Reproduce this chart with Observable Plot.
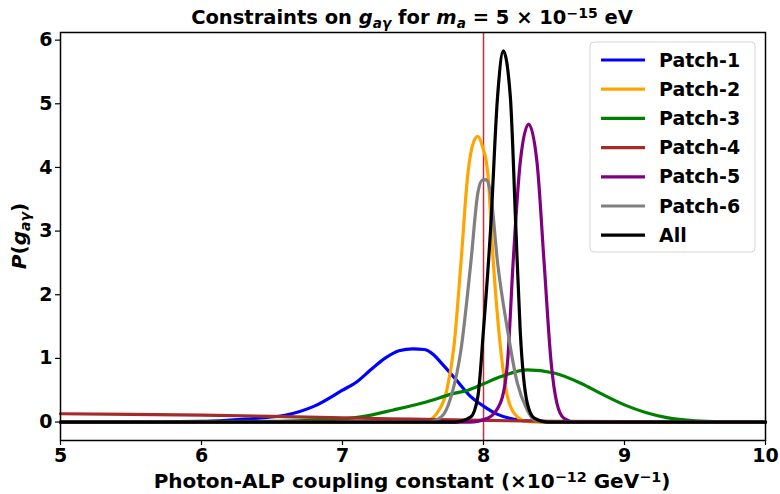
<!DOCTYPE html>
<html>
<head>
<meta charset="utf-8">
<script src="https://cdn.jsdelivr.net/npm/d3@7"></script>
<script src="https://cdn.jsdelivr.net/npm/@observablehq/plot@0.6"></script>
<style>
  html, body { margin: 0; padding: 0; background: #fff; }
  #chart { width: 780px; height: 494px; }
</style>
</head>
<body>
<div id="chart"></div>
<script>
// ---- Data ----
const seriesNames = ["Patch-1", "Patch-2", "Patch-3", "Patch-4", "Patch-5", "Patch-6", "All"];
const seriesColors = ["#0000ff", "#ffa500", "#008000", "#a52a2a", "#800080", "#808080", "#000000"];

const p1x = [5.0, 5.5, 6.0, 6.2, 6.4, 6.6, 6.8, 7.0, 7.1, 7.2, 7.3, 7.4, 7.5, 7.58, 7.65, 7.7, 7.8, 7.9, 8.0, 8.1, 8.2, 8.3, 8.5, 9.0, 10.0];
const p1y = [0, 0, 0.01, 0.03, 0.06, 0.11, 0.25, 0.5, 0.63, 0.82, 1.0, 1.12, 1.15, 1.14, 1.05, 0.93, 0.68, 0.42, 0.25, 0.12, 0.05, 0.02, 0, 0, 0];

const p2x = [5.0, 7.5, 7.6, 7.67, 7.74, 7.79, 7.84, 7.89, 7.93, 7.96, 7.99, 8.03, 8.07, 8.12, 8.17, 8.24, 8.3, 8.4, 10.0];
const p2y = [0, 0, 0.02, 0.14, 0.5, 1.18, 2.5, 3.92, 4.4, 4.49, 4.35, 3.92, 2.5, 1.18, 0.4, 0.08, 0.01, 0, 0];

const p3x = [5.0, 6.5, 6.8, 7.0, 7.13, 7.36, 7.6, 7.79, 7.89, 8.0, 8.12, 8.31, 8.5, 8.69, 8.83, 9.0, 9.15, 9.3, 9.5, 9.7, 10.0];
const p3y = [0, 0.01, 0.03, 0.05, 0.08, 0.19, 0.32, 0.45, 0.5, 0.6, 0.71, 0.82, 0.77, 0.61, 0.45, 0.27, 0.15, 0.07, 0.02, 0.005, 0];

const p4x = [5.0, 5.5, 6.0, 6.5, 7.0, 7.5, 8.0, 8.5, 9.0, 9.5, 10.0];
const p4y = [0.13, 0.12, 0.11, 0.09, 0.065, 0.045, 0.025, 0.012, 0.005, 0.002, 0];

const p5x = [5.0, 7.9, 8.03, 8.12, 8.17, 8.21, 8.26, 8.32, 8.38, 8.43, 8.48, 8.52, 8.57, 8.65, 10.0];
const p5y = [0, 0, 0.06, 0.3, 0.93, 2.5, 4.07, 4.68, 4.07, 2.5, 0.93, 0.3, 0.06, 0, 0];

const p6x = [5.0, 7.6, 7.7, 7.77, 7.84, 7.91, 7.96, 7.99, 8.02, 8.05, 8.1, 8.17, 8.24, 8.31, 8.36, 8.45, 10.0];
const p6y = [0, 0, 0.08, 0.4, 1.13, 2.5, 3.6, 3.8, 3.81, 3.6, 2.5, 1.45, 0.61, 0.19, 0.03, 0, 0];

const allx = [5.0, 7.8, 7.91, 7.96, 8.0, 8.05, 8.1, 8.14, 8.19, 8.23, 8.26, 8.31, 8.36, 8.45, 10.0];
const ally = [0, 0, 0.08, 0.4, 1.45, 3.02, 5.12, 5.83, 5.12, 3.02, 1.45, 0.3, 0.06, 0, 0];

const xTicks = [5, 6, 7, 8, 9, 10];
const yTicks = [0, 1, 2, 3, 4, 5, 6];
const refLineX = [8];

// ---- Build table ----
const xs = [p1x, p2x, p3x, p4x, p5x, p6x, allx];
const ys = [p1y, p2y, p3y, p4y, p5y, p6y, ally];
const rows = [];
seriesNames.forEach((name, i) => {
  xs[i].forEach((x, j) => rows.push({series: name, x, y: ys[i][j]}));
});

const FONT = "DejaVu Sans, Liberation Sans, sans-serif";
const fmt = d3.format("d");

const plot = Plot.plot({
  width: 780,
  height: 494,
  marginLeft: 60,
  marginRight: 15,
  marginTop: 32,
  marginBottom: 54,
  style: {fontFamily: FONT, fontWeight: "bold", fontSize: "19px", background: "#fff", color: "#000"},
  x: {domain: [5, 10]},
  y: {domain: [-0.29, 6.12]},
  color: {domain: seriesNames, range: seriesColors},
  marks: [
    Plot.axisX({ticks: xTicks, tickFormat: fmt, tickSize: 5, tickPadding: 3, fontSize: 19, fontWeight: "bold", label: null, strokeWidth: 1.2}),
    Plot.axisY({ticks: yTicks, tickFormat: fmt, tickSize: 5, tickPadding: 3, fontSize: 19, fontWeight: "bold", label: null, strokeWidth: 1.2}),
    Plot.ruleX(refLineX, {stroke: "#c0303a", strokeWidth: 1.5}),
    Plot.line(rows, {x: "x", y: "y", z: "series", stroke: "series", strokeWidth: 3.2, curve: "monotone-x"}),
    Plot.frame({stroke: "#000", strokeWidth: 1.5})
  ]
});

document.getElementById("chart").appendChild(plot);

// ---- Titles and labels with sub/superscripts ----
const svg = d3.select(plot);

function rich(sel, parts) {
  parts.forEach(p => {
    const t = sel.append("tspan").text(p.t);
    if (p.i) t.attr("font-style", "italic");
    if (p.sub) t.attr("baseline-shift", "-25%").attr("font-size", "0.7em");
    if (p.sup) t.attr("baseline-shift", "45%").attr("font-size", "0.72em");
  });
}

const title = svg.append("text")
  .attr("x", 412).attr("y", 24)
  .attr("text-anchor", "middle")
  .attr("font-family", FONT).attr("font-weight", "bold").attr("font-size", 19.5)
  .attr("fill", "#000");
rich(title, [
  {t: "Constraints on "}, {t: "g", i: true}, {t: "aγ", i: true, sub: true},
  {t: " for "}, {t: "m", i: true}, {t: "a", i: true, sub: true},
  {t: " = 5 × 10"}, {t: "−15", sup: true}, {t: " eV"}
]);

const xl = svg.append("text")
  .attr("x", 412).attr("y", 488)
  .attr("text-anchor", "middle")
  .attr("font-family", FONT).attr("font-weight", "bold").attr("font-size", 20)
  .attr("fill", "#000");
rich(xl, [
  {t: "Photon-ALP coupling constant (×10"}, {t: "−12", sup: true},
  {t: " GeV"}, {t: "−1", sup: true}, {t: ")"}
]);

const yl = svg.append("text")
  .attr("transform", "translate(26,236) rotate(-90)")
  .attr("text-anchor", "middle")
  .attr("font-family", FONT).attr("font-weight", "bold").attr("font-size", 20)
  .attr("fill", "#000");
rich(yl, [
  {t: "P", i: true}, {t: "("}, {t: "g", i: true}, {t: "aγ", i: true, sub: true}, {t: ")"}
]);

// ---- Legend ----
const lg = svg.append("g");
lg.append("rect")
  .attr("x", 590).attr("y", 42).attr("width", 165).attr("height", 210)
  .attr("rx", 4).attr("fill", "#fff").attr("fill-opacity", 0.8)
  .attr("stroke", "#d6d6d6").attr("stroke-width", 1);
seriesNames.forEach((name, i) => {
  const cy = 60 + i * 29.2;
  lg.append("line")
    .attr("x1", 601).attr("x2", 645).attr("y1", cy).attr("y2", cy)
    .attr("stroke", seriesColors[i]).attr("stroke-width", 3.2);
  lg.append("text")
    .attr("x", 659).attr("y", cy).attr("dy", "0.35em")
    .attr("text-anchor", "start")
    .attr("font-family", FONT).attr("font-weight", "bold").attr("font-size", 19)
    .attr("fill", "#000").text(name);
});
</script>
</body>
</html>
